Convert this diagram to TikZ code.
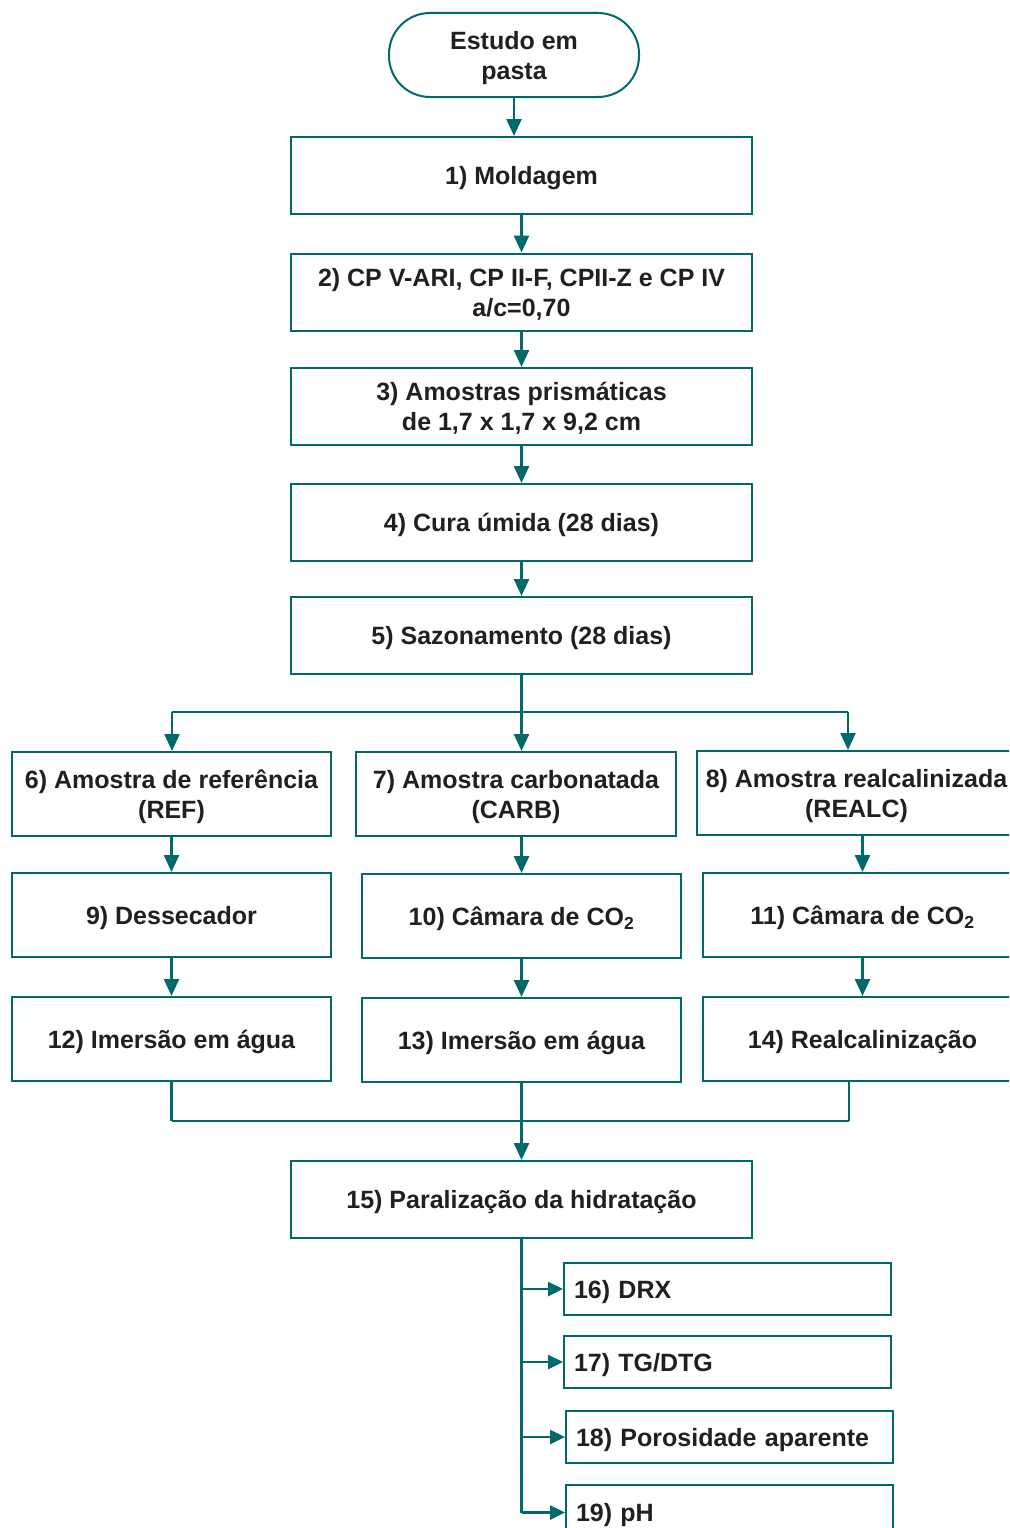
\documentclass[tikz,border=0pt]{standalone}
\usepackage{fontspec}
\setmainfont{Liberation Sans}
\usetikzlibrary{arrows.meta,calc}
\definecolor{tealc}{RGB}{0,106,106}
\definecolor{ink}{RGB}{35,31,32}
\begin{document}
\begin{tikzpicture}[x=1pt,y=-1pt,
  box/.style={draw=tealc,line width=2pt,fill=white,text=ink,
    font=\bfseries\fontsize{25}{30}\selectfont,align=center,inner sep=0pt,
    text depth=0pt,minimum width=461pt,minimum height=77pt},
  sbox/.style={box,minimum width=319pt,minimum height=84pt},
  lbox/.style={box,minimum width=327pt,minimum height=52pt,text width=307pt,align=left},
  line/.style={draw=tealc,line width=2.5pt},
  arr/.style={line,-{Triangle[width=15pt,length=17pt]}},
  harr/.style={line,-{Triangle[width=14pt,length=15pt]}}]
\useasboundingbox (0,0) rectangle (1009,1528);
\clip (0,0) rectangle (1009,1528);
\node[box,rounded corners=41pt,minimum width=250pt,minimum height=84pt] (start) at (514,55) {Estudo em\\pasta};
\node[box] (b1) at (521.5,175.5) {1) Moldagem};
\node[box] (b2) at (521.5,292) {2) CP V-ARI, CP II-F, CPII-Z e CP IV\\a/c=0,70};
\node[box] (b3) at (521.5,406.5) {3) Amostras prismáticas\\de 1,7 x 1,7 x 9,2 cm};
\node[box] (b4) at (521.5,522.5) {4) Cura úmida (28 dias)};
\node[box] (b5) at (521.5,635.5) {5) Sazonamento (28 dias)};
\node[sbox] (b6) at (171.5,794) {6) Amostra de referência\\(REF)};
\node[sbox,minimum width=320pt] (b7) at (516,794) {7) Amostra carbonatada\\(CARB)};
\node[sbox] (b8) at (856.5,793) {8) Amostra realcalinizada\\(REALC)};
\node[sbox] (b9) at (171.5,915) {9) Dessecador};
\node[sbox] (b10) at (521.5,916) {10) Câmara de CO\textsubscript{2}};
\node[sbox] (b11) at (862.5,915) {11) Câmara de CO\textsubscript{2}};
\node[sbox] (b12) at (171.5,1039) {12) Imersão em água};
\node[sbox] (b13) at (521.5,1040) {13) Imersão em água};
\node[sbox] (b14) at (862.5,1039) {14) Realcalinização};
\node[box] (b15) at (521.5,1199.5) {15) Paralização da hidratação};
\node[lbox] (b16) at (727.5,1289) {16) DRX};
\node[lbox] (b17) at (727.5,1362) {17) TG/DTG};
\node[lbox] (b18) at (729.5,1437) {18) Porosidade aparente};
\node[lbox,minimum height=55pt] (b19) at (729.5,1512.5) {19) pH};
% main chain
\draw[arr] (start.south) -- (start.south |- b1.north);
\draw[arr] (b1.south) -- (b2.north);
\draw[arr] (b2.south) -- (b3.north);
\draw[arr] (b3.south) -- (b4.north);
\draw[arr] (b4.south) -- (b5.north);
% split
\coordinate (jL) at (172,712);
\coordinate (jR) at (848,712);
\draw[line] (b5.south) -- (b5.south |- jL);
\draw[line] (jL) -- (jR);
\draw[arr] (jL) -- (jL |- b6.north);
\draw[arr] (b5.south |- jL) -- (b5.south |- b7.north);
\draw[arr] (jR) -- (jR |- b8.north);
% columns
\draw[arr] (b6.south) -- (b9.north);
\draw[arr] (b10.north |- b7.south) -- (b10.north);
\draw[arr] (b11.north |- b8.south) -- (b11.north);
\draw[arr] (b9.south) -- (b12.north);
\draw[arr] (b10.south) -- (b13.north);
\draw[arr] (b11.south) -- (b14.north);
% merge
\coordinate (mR) at (849,1121);
\coordinate (mL) at (b12.south |- mR);
\draw[line] (b12.south) -- (mL);
\draw[line] (mR |- b14.south) -- (mR);
\draw[line] (mL) -- (mR);
\draw[arr] (b13.south) -- (b15.north);
% analyses
\draw[line] (b15.south) -- (b15.south |- b19.west);
\draw[harr] (b15.south |- b16.west) -- (b16.west);
\draw[harr] (b15.south |- b17.west) -- (b17.west);
\draw[harr] (b15.south |- b18.west) -- (b18.west);
\draw[harr] (b15.south |- b19.west) -- (b19.west);
\end{tikzpicture}
\end{document}
